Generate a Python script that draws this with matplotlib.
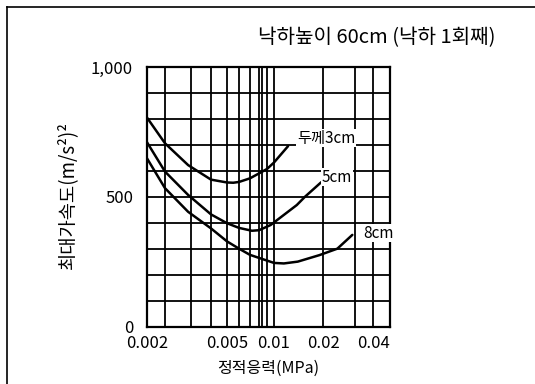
import matplotlib
matplotlib.use("Agg")
import numpy as np
import matplotlib.pyplot as plt
from matplotlib.lines import Line2D
from matplotlib.ticker import FixedLocator, NullFormatter, NullLocator

plt.rcParams['font.family'] = ['Noto Sans CJK KR', 'DejaVu Sans']

# data
x_3cm = [0.002, 0.0025, 0.00294, 0.004, 0.005, 0.0055, 0.006, 0.007, 0.008, 0.009, 0.01, 0.0122]
y_3cm = [805, 706, 622, 566, 555, 554, 557, 571, 590, 607, 632, 695]

x_5cm = [0.002, 0.0025, 0.00294, 0.004, 0.005, 0.006, 0.0072, 0.008, 0.0095, 0.0138, 0.0155, 0.0195]
y_5cm = [710, 597, 507, 432, 398, 380, 369, 371, 391, 468, 500, 556]

x_8cm = [0.002, 0.0025, 0.00294, 0.004, 0.005, 0.006, 0.007, 0.01, 0.0115, 0.014, 0.019, 0.024, 0.029]
y_8cm = [648, 533, 442, 378, 328, 300, 276, 245, 243, 250, 275, 300, 353]

x_ticks = [0.002, 0.005, 0.01, 0.02, 0.04]
x_tick_labels = ['0.002', '0.005', '0.01', '0.02', '0.04']
x_grid = [0.0025, 0.003, 0.004, 0.005, 0.006, 0.007, 0.008, 0.0085, 0.009, 0.01, 0.02, 0.03, 0.04]
y_ticks = [0, 500, 1000]
y_tick_labels = ['0', '500', '1,000']
y_grid = [100, 200, 300, 400, 500, 600, 700, 800, 900]

title = '낙하높이 60cm (낙하 1회째)'
xlabel = '정적응력(MPa)'
ylabel = '최대가속도(m/s²)²'

# hand-drawn logarithmic axis of the original: knot values and their relative positions
knot_vals = np.log10([0.002, 0.0025, 0.003, 0.004, 0.005, 0.006, 0.007, 0.008, 0.0085,
                      0.009, 0.01, 0.02, 0.03, 0.04, 0.05])
knot_pos = np.array([0, 18, 44, 64, 80, 92, 103, 112, 115, 120, 127, 176, 208, 226, 243], float)


def _interp_ext(x, xp, fp):
    x = np.asarray(x, float)
    y = np.interp(x, xp, fp)
    lo = x < xp[0]
    hi = x > xp[-1]
    y = np.where(lo, fp[0] + (x - xp[0]) * (fp[1] - fp[0]) / (xp[1] - xp[0]), y)
    y = np.where(hi, fp[-1] + (x - xp[-1]) * (fp[-1] - fp[-2]) / (xp[-1] - xp[-2]), y)
    return y


def fwd(x):
    x = np.clip(np.asarray(x, float), 1e-9, None)
    return _interp_ext(np.log10(x), knot_vals, knot_pos)


def inv(p):
    return 10 ** _interp_ext(p, knot_pos, knot_vals)


W, H = 535, 384
fig = plt.figure(figsize=(W / 100, H / 100), dpi=100)
L, R, T, B = 147, 390, 67, 326.5
ax = fig.add_axes([L / W, 1 - B / H, (R - L) / W, (B - T) / H])

ax.set_xscale('function', functions=(fwd, inv))
ax.set_xlim(0.002, 0.05)
ax.set_ylim(0, 1000)

for xv in x_grid:
    ax.axvline(xv, color='black', lw=1.3, zorder=1)
for yv in y_grid:
    ax.axhline(yv, color='black', lw=1.3, zorder=1)

for xs, ys in [(x_3cm, y_3cm), (x_5cm, y_5cm), (x_8cm, y_8cm)]:
    ax.plot(xs, ys, color='black', lw=1.8, zorder=3, solid_capstyle='round', solid_joinstyle='round')

ax.xaxis.set_major_locator(FixedLocator(x_ticks))
ax.set_xticklabels(x_tick_labels)
ax.xaxis.set_minor_locator(NullLocator())
ax.xaxis.set_minor_formatter(NullFormatter())
ax.set_yticks(y_ticks)
ax.set_yticklabels(y_tick_labels)
ax.tick_params(axis='both', length=0, labelsize=12)
ax.tick_params(axis='x', pad=6)
ax.tick_params(axis='y', pad=10)
for s in ax.spines.values():
    s.set_linewidth(1.6)
    s.set_color('black')

lab_kw = dict(fontsize=11, va='center', ha='left', zorder=4,
              bbox=dict(facecolor='white', edgecolor='none', pad=0.5))
ax.text(0.0138, 726, '두께3cm', **lab_kw)
ax.text(0.0196, 576, '5cm', **lab_kw)
ax.text(0.0342, 360, '8cm', **lab_kw)

fig.text(495 / W, 1 - 38 / H, title, fontsize=14.5, ha='right', va='center')
fig.text(268 / W, 1 - 368 / H, xlabel, fontsize=11.5, ha='center', va='center')
fig.text(68 / W, 1 - 195 / H, ylabel, fontsize=13.5, ha='center', va='center', rotation=90)

# outer frame
fig.add_artist(Line2D([7 / W, 7 / W], [0, 1 - 7 / H], color='black', lw=1.2))
fig.add_artist(Line2D([7 / W, 1], [1 - 7 / H, 1 - 7 / H], color='black', lw=1.2))

fig.savefig('out.png', dpi=100)
